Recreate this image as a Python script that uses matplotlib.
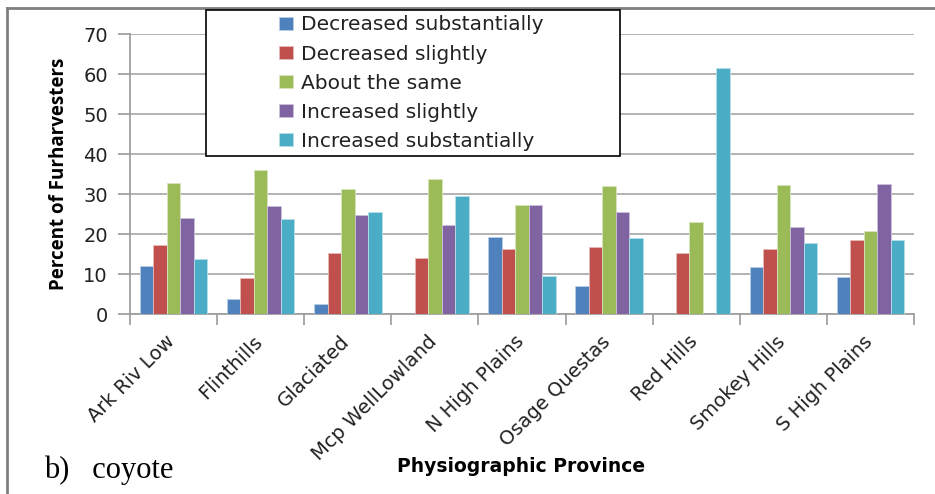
import matplotlib
matplotlib.use("Agg")
import matplotlib.pyplot as plt
import matplotlib.transforms as mtransforms
import numpy as np
from matplotlib.patches import Rectangle, Patch
from matplotlib.lines import Line2D

categories = ["Ark Riv Low", "Flinthills", "Glaciated", "Mcp WellLowland", "N High Plains",
              "Osage Questas", "Red Hills", "Smokey Hills", "S High Plains"]
series_names = ["Decreased substantially", "Decreased slightly", "About the same",
                "Increased slightly", "Increased substantially"]
decreased_substantially = [12.0, 3.8, 2.5, 0.0, 19.3, 6.9, 0.0, 11.8, 9.3]
decreased_slightly = [17.2, 9.0, 15.3, 13.9, 16.2, 16.7, 15.3, 16.2, 18.6]
about_the_same = [32.7, 35.9, 31.3, 33.8, 27.3, 31.9, 22.9, 32.2, 20.8]
increased_slightly = [23.9, 26.9, 24.8, 22.3, 27.3, 25.4, 0.0, 21.8, 32.4]
increased_substantially = [13.7, 23.7, 25.4, 29.4, 9.5, 19.1, 61.5, 17.7, 18.6]
yticks = [0, 10, 20, 30, 40, 50, 60, 70]

series = [decreased_substantially, decreased_slightly, about_the_same,
          increased_slightly, increased_substantially]
colors = ["#4F81BD", "#C0504D", "#9BBB59", "#8064A2", "#4BACC6"]
edges = ["#B9CDE5", "#E6B9B8", "#D7E4BD", "#CCC1DA", "#B7DEE8"]

W, H = 935, 494
fig = plt.figure(figsize=(W / 100, H / 100), dpi=100)
ax = fig.add_axes([130 / W, 1 - 314 / H, (914 - 130) / W, (314 - 34) / H])

x = np.arange(len(categories))
bw = 0.155
for i, (vals, c, e) in enumerate(zip(series, colors, edges)):
    ax.bar(x + (i - 2) * bw, vals, width=bw, color=c, edgecolor=e, linewidth=0.6,
           zorder=3, label=series_names[i])

ax.set_xlim(-0.5, len(categories) - 0.5)
ax.set_ylim(0, 70)
ax.set_yticks(yticks)
ax.set_yticklabels([str(v) for v in yticks], family="DejaVu Sans", fontsize=14, color="#222222")
ax.yaxis.grid(True, color="#A6A6A6", linewidth=1.2, zorder=0)
ax.set_axisbelow(True)
for s in ["top", "right"]:
    ax.spines[s].set_visible(False)
for s in ["left", "bottom"]:
    ax.spines[s].set_color("#9A9A9A")
    ax.spines[s].set_linewidth(1.2)
ax.tick_params(axis="y", length=9, color="#9A9A9A", width=1.2, pad=7)
ax.set_xticks(np.arange(len(categories) + 1) - 0.5, minor=False)
ax.set_xticklabels([])
ax.tick_params(axis="x", which="major", length=8, color="#9A9A9A", width=1.2)
ax.set_xticks(x, minor=True)
ax.set_xticklabels(categories, minor=True, rotation=45, ha="right", va="top",
                   rotation_mode="anchor", family="DejaVu Sans", fontsize=14, color="#222222")
ax.tick_params(axis="x", which="minor", length=0, pad=13)
shift = mtransforms.ScaledTranslation(-8 / 100, 0, fig.dpi_scale_trans)
for lab in ax.get_xticklabels(minor=True):
    lab.set_transform(lab.get_transform() + shift)

ax.set_ylabel("Percent of Furharvesters", family="Open Sans", fontweight="bold",
              fontsize=13.5, labelpad=10)
fig.text(521 / W, 1 - 466 / H, "Physiographic Province", family="DejaVu Sans",
         fontweight="bold", fontsize=13.5, ha="center", va="center")
fig.text(44 / W, 1 - 478 / H, "b)   coyote", family="Liberation Serif", fontsize=22,
         ha="left", va="baseline")

# outer border
fig.add_artist(Line2D([7 / W, 7 / W], [0, 1 - 8.5 / H], color="#808080", linewidth=2,
                      transform=fig.transFigure))
fig.add_artist(Line2D([7 / W, 1], [1 - 8.5 / H, 1 - 8.5 / H], color="#808080", linewidth=2,
                      transform=fig.transFigure))

# legend box
rect = Rectangle((206 / W, 1 - 156 / H), (620 - 206) / W, (156 - 10.5) / H,
                 transform=fig.transFigure, facecolor="white", edgecolor="black",
                 linewidth=1.2, zorder=5)
fig.add_artist(rect)
handles = [Patch(facecolor=c, edgecolor=e, linewidth=0.6) for c, e in zip(colors, edges)]
leg = fig.legend(handles, series_names, loc="upper left",
                 bbox_to_anchor=(279 / W, 1 - 15.5 / H), frameon=False,
                 prop={"family": "DejaVu Sans", "size": 14.5}, handlelength=0.7,
                 handleheight=0.65, handletextpad=0.4, labelspacing=0.5, borderpad=0,
                 borderaxespad=0)
leg.set_zorder(6)
for t in leg.get_texts():
    t.set_color("#222222")

fig.savefig("out.png", dpi=100)
